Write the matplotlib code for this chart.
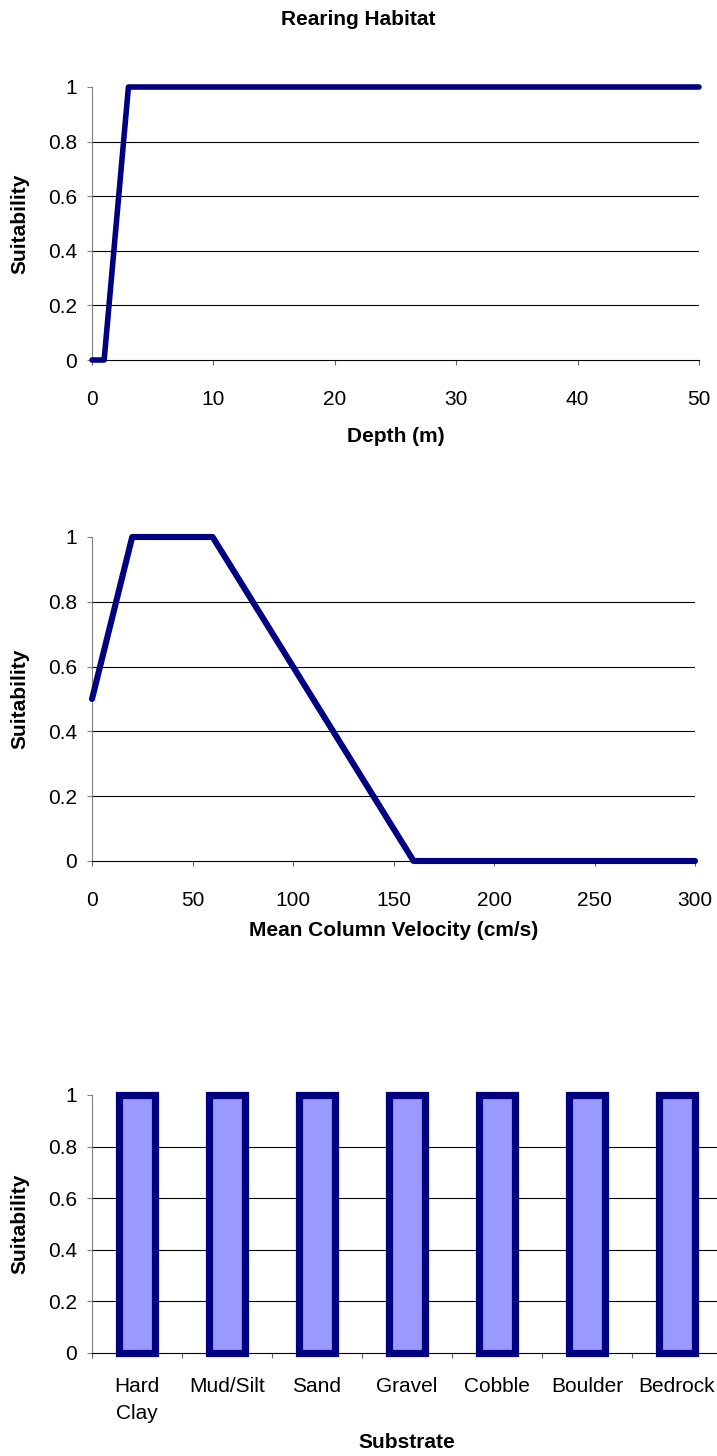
import matplotlib
matplotlib.use("Agg")
import matplotlib.pyplot as plt
import matplotlib.transforms as mtransforms
import numpy as np

plt.rcParams['font.family'] = ['Liberation Sans', 'DejaVu Sans']

# Habitat suitability curves for rearing
depth_m = [0, 1, 3, 50]
depth_suit = [0, 0, 1, 1]

velocity_cms = [0, 20, 60, 160, 300]
velocity_suit = [0.5, 1, 1, 0, 0]

substrates = ["Hard\nClay", "Mud/Silt", "Sand", "Gravel", "Cobble", "Boulder", "Bedrock"]
substrate_suit = [1, 1, 1, 1, 1, 1, 1]

y_ticks = [0, 0.2, 0.4, 0.6, 0.8, 1]
y_tick_labels = ["0", "0.2", "0.4", "0.6", "0.8", "1"]

W, H = 717, 1456
NAVY = "#000080"
FS = 15

fig = plt.figure(figsize=(W / 100, H / 100), dpi=100)


def px_axes(left, top, right, bottom):
    return fig.add_axes([left / W, 1 - bottom / H, (right - left) / W, (bottom - top) / H])


def style(ax):
    ax.set_ylim(0, 1)
    ax.set_yticks(y_ticks)
    ax.set_yticklabels(y_tick_labels)
    for y in y_ticks[1:-1]:
        ax.axhline(y, color="black", lw=0.8, zorder=1)
    for s in ["top", "right"]:
        ax.spines[s].set_visible(False)
    ax.spines["left"].set_color("#808080")
    ax.spines["left"].set_linewidth(0.8)
    ax.spines["bottom"].set_color("black")
    ax.spines["bottom"].set_linewidth(0.8)
    ax.tick_params(axis="y", direction="out", length=3.6, width=0.8, color="#808080",
                   pad=7, labelsize=FS)
    ax.tick_params(axis="x", direction="out", length=3.6, width=0.8, color="#606060",
                   pad=18, labelsize=FS)
    # y label sits at a fixed distance from the figure's left edge
    fig.text(20 / W, 0.5, "Suitability", rotation=90, ha="center", va="center",
             fontsize=FS, fontweight="bold",
             transform=mtransforms.blended_transform_factory(fig.transFigure, ax.transAxes))


def xlabel(ax, text, y_px):
    fig.text(0.5, 1 - y_px / H, text, ha="center", va="center", fontsize=FS,
             fontweight="bold",
             transform=mtransforms.blended_transform_factory(ax.transAxes, fig.transFigure))


fig.text(0.5, 1 - 19.5 / H, "Rearing Habitat", ha="center", va="center",
         fontsize=FS, fontweight="bold")

# Depth
ax1 = px_axes(92, 87, 699, 360)
style(ax1)
ax1.plot(depth_m, depth_suit, color=NAVY, lw=4.0, solid_capstyle="round",
         solid_joinstyle="round", clip_on=False, zorder=3)
ax1.set_xlim(0, 50)
ax1.set_xticks([0, 10, 20, 30, 40, 50])
xlabel(ax1, "Depth (m)", 436)

# Mean column velocity
ax2 = px_axes(92, 537, 695, 861)
style(ax2)
ax2.plot(velocity_cms, velocity_suit, color=NAVY, lw=4.4, solid_capstyle="round",
         solid_joinstyle="round", clip_on=False, zorder=3)
ax2.set_xlim(0, 300)
ax2.set_xticks([0, 50, 100, 150, 200, 250, 300])
xlabel(ax2, "Mean Column Velocity (cm/s)", 931)

# Substrate
ax3 = px_axes(92, 1095, 722, 1353)
style(ax3)
x = np.arange(len(substrates))
ax3.bar(x, substrate_suit, width=0.41, color="#9999FF", edgecolor=NAVY, linewidth=5.2,
        clip_on=False, zorder=3)
ax3.set_xlim(-0.5, len(substrates) - 0.5)
ax3.set_xticks(x)
ax3.set_xticklabels(substrates, linespacing=1.55, va="top")
ax3.set_xticks(np.arange(len(substrates) + 1) - 0.5, minor=True)
ax3.tick_params(axis="x", which="major", length=0, pad=17)
ax3.tick_params(axis="x", which="minor", direction="out", length=3.6, width=0.8,
                color="#606060")
xlabel(ax3, "Substrate", 1443)

fig.savefig("out.png", dpi=100)
